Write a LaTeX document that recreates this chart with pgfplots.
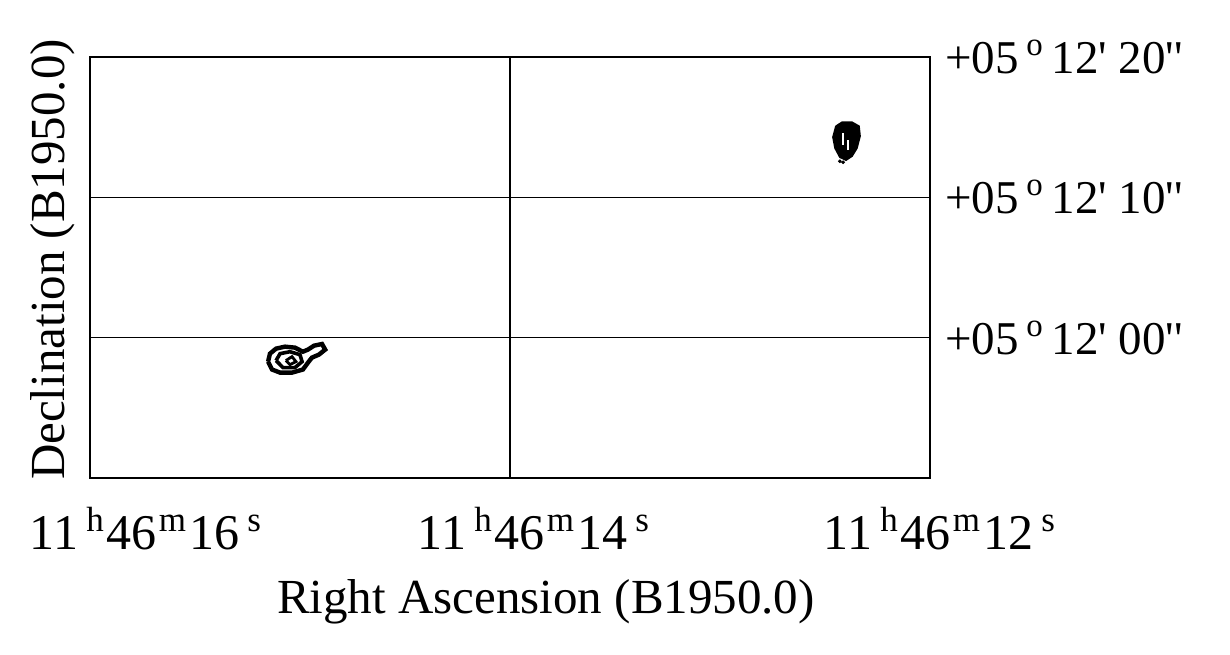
\documentclass[border=0pt]{standalone}
\usepackage{fontspec}
\setmainfont{Liberation Serif}
\usepackage{pgfplots}
\pgfplotsset{compat=1.18}

\newcommand{\ra}[1]{11\,\textsuperscript{h}\kern1pt46\kern1pt\textsuperscript{m}\kern1pt#1\,\textsuperscript{s}}
\newcommand{\dec}[1]{+05\,\textsuperscript{o}\,12\textquotesingle\ #1\textquotesingle\textquotesingle}

\begin{document}
\begin{tikzpicture}
\path[use as bounding box] (-45pt,-88pt) rectangle (570pt,239pt);
\begin{axis}[
    at={(0,0)}, anchor=south west,
    scale only axis,
    width=420pt, height=210.5pt,
    x dir=reverse,
    xmin=12, xmax=16,
    ymin=-10, ymax=20,
    xtick={12,14,16},
    xticklabels={\ra{12}\hspace*{14pt},\ra{14},\hspace*{32pt}\ra{16}},
    ytick={0,10,20},
    yticklabels={\dec{00},\dec{10},\dec{20}},
    yticklabel pos=right,
    grid=major,
    grid style={black, line width=0.6pt},
    axis line style={line width=0.8pt},
    major tick length=0pt,
    x tick label style={font=\fontsize{25}{28}\selectfont, anchor=north, yshift=-11pt, xshift=12pt},
    y tick label style={font=\fontsize{23.5}{26}\selectfont, anchor=west, xshift=4pt},
    xlabel={Right Ascension (B1950.0)},
    ylabel={Declination (B1950.0)},
    label style={font=\fontsize{24.5}{28}\selectfont},
    xlabel style={yshift=-8pt, xshift=18pt},
    ylabel style={at={(rel axis cs:0,0.5)}, anchor=south, rotate=0, yshift=4pt, xshift=4pt},
]
% source near 11h46m15s
\addplot[black, line width=2.2pt] coordinates {
    (15.152,-1.71)(15.143,-1.14)(15.114,-0.78)(15.071,-0.64)(15.024,-0.71)
    (14.986,-1.00)(14.962,-0.85)(14.933,-0.57)(14.895,-0.45)(14.880,-0.85)
    (14.910,-1.21)(14.943,-1.42)(14.962,-1.78)(14.986,-2.27)(15.038,-2.49)
    (15.095,-2.49)(15.133,-2.27)(15.152,-1.71)
};
\addplot[black, line width=1.8pt] coordinates {
    (15.114,-1.63)(15.095,-1.14)(15.048,-1.00)(15.000,-1.21)(14.990,-1.71)
    (15.024,-2.13)(15.081,-2.13)(15.114,-1.63)
};
\addplot[black, line width=1.4pt] coordinates {
    (15.067,-1.63)(15.038,-1.35)(15.019,-1.71)(15.048,-1.92)(15.067,-1.63)
};
% source near 11h46m12.4s
\addplot[black, fill=black, line width=0.8pt] coordinates {
    (12.448,15.07)(12.419,15.35)(12.371,15.35)(12.338,15.07)(12.333,14.36)
    (12.348,13.50)(12.371,12.94)(12.400,12.65)(12.429,12.86)(12.452,13.50)
    (12.462,14.29)(12.448,15.07)
};
\addplot[white, line width=0.9pt] coordinates {(12.414,14.57)(12.414,13.72)};
\addplot[white, line width=0.9pt] coordinates {(12.390,14.07)(12.390,13.36)};
\addplot[black, only marks, mark=*, mark size=0.7pt] coordinates {(12.414,12.50)(12.429,12.57)};
\end{axis}
\end{tikzpicture}
\end{document}
